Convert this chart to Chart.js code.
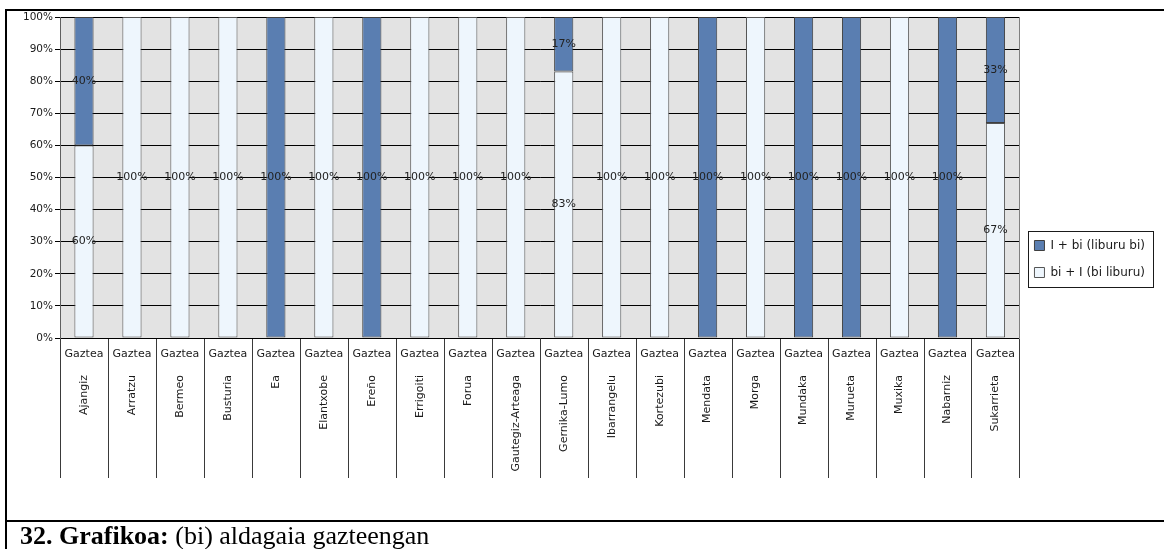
<!DOCTYPE html>
<html>
<head>
<meta charset="utf-8">
<script src="https://cdn.jsdelivr.net/npm/chart.js@4/dist/chart.umd.min.js"></script>
<style>
  html, body { margin: 0; padding: 0; background: #fff; }
  #wrap { position: relative; width: 1164px; height: 549px; overflow: hidden; }
  #chart { position: absolute; left: 0; top: 0; }
  .rule { position: absolute; background: #000; }
  #caption {
    position: absolute; left: 20px; top: 523px; margin: 0;
    font-family: "Liberation Serif", "DejaVu Serif", serif; font-size: 26px; line-height: 26px;
    color: #000; white-space: nowrap;
  }
</style>
</head>
<body>
<div id="wrap">
  <canvas id="chart" width="1164" height="549"></canvas>
  <div class="rule" style="left:5px;top:9px;width:1159px;height:2px"></div>
  <div class="rule" style="left:5px;top:9px;width:2px;height:540px"></div>
  <div class="rule" style="left:5px;top:520px;width:1159px;height:2px"></div>
  <p id="caption"><b>32. Grafikoa:</b> (bi) aldagaia gazteengan</p>
</div>
<script>
// Herriak (udalerriak) eta adin-taldea
const towns = ["Ajangiz", "Arratzu", "Bermeo", "Busturia", "Ea", "Elantxobe", "Ereño", "Errigoiti",
  "Forua", "Gautegiz-Arteaga", "Gernika-Lumo", "Ibarrangelu", "Kortezubi", "Mendata", "Morga",
  "Mundaka", "Murueta", "Muxika", "Nabarniz", "Sukarrieta"];
const groupLabels = towns.map(() => "Gaztea");

// Ehunekoak herri bakoitzeko
const seriesNames = ["I + bi (liburu bi)", "bi + I (bi liburu)"];
const liburuBi = [40, 0, 0, 0, 100, 0, 100, 0, 0, 0, 17, 0, 0, 100, 0, 100, 100, 0, 100, 33];
const biLiburu = [60, 100, 100, 100, 0, 100, 0, 100, 100, 100, 83, 100, 100, 0, 100, 0, 0, 100, 0, 67];

const yTicks = [0, 10, 20, 30, 40, 50, 60, 70, 80, 90, 100];

const FONT = "'DejaVu Sans', Verdana, sans-serif";

// Plot area background and frame
const plotBackground = {
  id: "plotBackground",
  beforeDraw(chart) {
    const { ctx, chartArea: a } = chart;
    ctx.save();
    ctx.fillStyle = "#e3e3e3";
    ctx.fillRect(a.left, a.top, a.right - a.left, a.bottom - a.top);
    ctx.restore();
  },
  afterDraw(chart) {
    const { ctx, chartArea: a } = chart;
    ctx.save();
    ctx.strokeStyle = "#7f7f7f";
    ctx.lineWidth = 1;
    ctx.beginPath();
    ctx.moveTo(Math.round(a.right) + 0.5, a.top);
    ctx.lineTo(Math.round(a.right) + 0.5, a.bottom);
    ctx.stroke();
    ctx.restore();
  }
};

// Separators between the category cells below the plot
const categoryCells = {
  id: "categoryCells",
  afterDraw(chart) {
    const { ctx, chartArea: a } = chart;
    const xs = chart.scales.x;
    const n = towns.length;
    ctx.save();
    ctx.strokeStyle = "#3a3a3a";
    ctx.lineWidth = 1;
    for (let i = 0; i <= n; i++) {
      let px;
      if (i === 0) px = a.left;
      else if (i === n) px = a.right;
      else px = (xs.getPixelForValue(i - 1) + xs.getPixelForValue(i)) / 2;
      px = Math.round(px) + 0.5;
      ctx.beginPath();
      ctx.moveTo(px, a.bottom + 1);
      ctx.lineTo(px, a.bottom + 140);
      ctx.stroke();
    }
    ctx.restore();
  }
};

// Value labels centred on each segment
const segmentLabels = {
  id: "segmentLabels",
  afterDatasetsDraw(chart) {
    const { ctx } = chart;
    ctx.save();
    ctx.font = "11px " + FONT;
    ctx.fillStyle = "#222";
    ctx.textAlign = "center";
    ctx.textBaseline = "middle";
    chart.data.datasets.forEach((ds, di) => {
      const meta = chart.getDatasetMeta(di);
      meta.data.forEach((bar, i) => {
        const v = ds.data[i];
        if (!v) return;
        ctx.fillText(v + "%", bar.x, (bar.y + bar.base) / 2);
      });
    });
    ctx.restore();
  }
};

// Frame round the legend
const legendFrame = {
  id: "legendFrame",
  afterDraw(chart) {
    const lg = chart.legend;
    if (!lg || !lg.legendHitBoxes || !lg.legendHitBoxes.length) return;
    const hb = lg.legendHitBoxes;
    const x0 = Math.min(...hb.map(h => h.left)) - 6;
    const x1 = Math.max(...hb.map(h => h.left + h.width)) + 8;
    const y0 = hb[0].top - 9;
    const y1 = hb[hb.length - 1].top + hb[hb.length - 1].height + 8;
    const { ctx } = chart;
    ctx.save();
    ctx.strokeStyle = "#1a1a1a";
    ctx.lineWidth = 1;
    ctx.strokeRect(Math.round(x0) + 0.5, Math.round(y0) + 0.5, Math.round(x1 - x0), Math.round(y1 - y0));
    ctx.restore();
  }
};

new Chart(document.getElementById("chart"), {
  type: "bar",
  data: {
    labels: groupLabels,
    datasets: [
      {
        label: seriesNames[1],
        data: biLiburu,
        backgroundColor: "#eef6fd",
        borderColor: "#555555",
        borderWidth: 1,
        borderSkipped: false,
        barPercentage: 0.4,
        categoryPercentage: 1.0
      },
      {
        label: seriesNames[0],
        data: liburuBi,
        backgroundColor: "#5a7eb1",
        borderColor: "#3f3f3f",
        borderWidth: 1,
        borderSkipped: false,
        barPercentage: 0.4,
        categoryPercentage: 1.0
      }
    ]
  },
  options: {
    responsive: false,
    animation: false,
    devicePixelRatio: 1,
    layout: { padding: { top: 17, left: 0, right: 9, bottom: 48 } },
    plugins: {
      legend: {
        position: "right",
        reverse: true,
        labels: {
          boxWidth: 10,
          boxHeight: 10,
          padding: 15,
          color: "#1a1a1a",
          font: { family: FONT, size: 12 }
        }
      },
      tooltip: { enabled: false }
    },
    scales: {
      x: {
        stacked: true,
        offset: true,
        weight: 0,
        grid: { display: false, drawTicks: false },
        border: { display: false },
        ticks: {
          autoSkip: false, maxRotation: 0, minRotation: 0, padding: 10,
          color: "#1a1a1a", font: { family: FONT, size: 11 }
        },
        afterFit(s) { s.height = 27; }
      },
      x2: {
        type: "category",
        position: "bottom",
        labels: towns,
        offset: true,
        weight: 1,
        grid: { display: false, drawTicks: false },
        border: { display: false },
        ticks: {
          autoSkip: false, maxRotation: 90, minRotation: 90, padding: 10,
          color: "#1a1a1a", font: { family: FONT, size: 11 }
        },
        afterFit(s) { s.height = 136; }
      },
      y: {
        stacked: true,
        min: 0,
        max: 100,
        afterBuildTicks(s) { s.ticks = yTicks.map(v => ({ value: v })); },
        grid: { color: "#000", lineWidth: 1, tickLength: 5, tickColor: "#000" },
        border: { display: true, color: "#5f5f5f", width: 1 },
        ticks: {
          padding: 2,
          color: "#1a1a1a",
          font: { family: FONT, size: 10.5 },
          callback: v => v + "%"
        },
        afterFit(s) { s.width = 60; }
      }
    }
  },
  plugins: [plotBackground, categoryCells, segmentLabels, legendFrame]
});
</script>
</body>
</html>
